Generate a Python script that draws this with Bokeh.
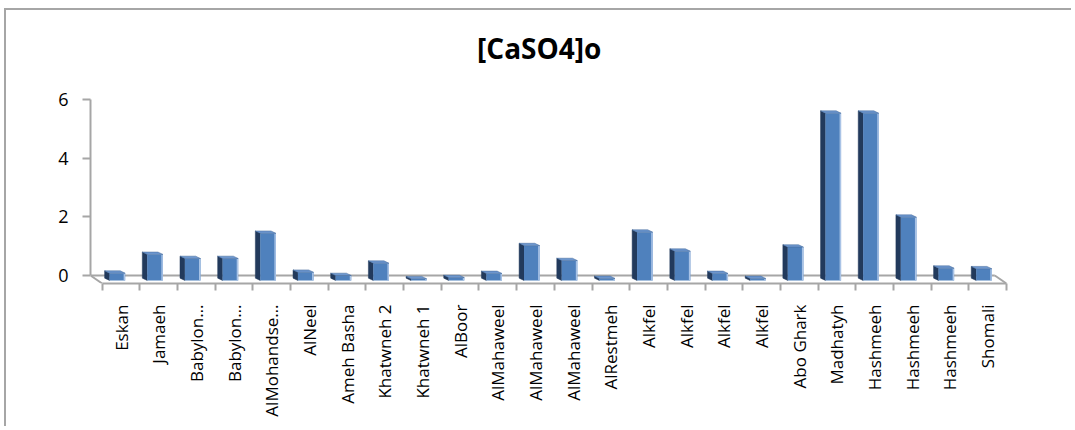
import math
from bokeh.plotting import figure
from bokeh.models import FixedTicker, Range1d, Label
from bokeh.embed import file_html
from bokeh.resources import INLINE

title_text = "[CaSO4]o"
categories = ["Eskan", "Jamaeh", "Babylon…", "Babylon…", "AlMohandse…", "AlNeel",
              "Ameh Basha", "Khatwneh 2", "Khatwneh 1", "AlBoor", "AlMahaweel",
              "AlMahaweel", "AlMahaweel", "AlRestmeh", "Alkfel", "Alkfel", "Alkfel",
              "Alkfel", "Abo Ghark", "Madhatyh", "Hashmeeh", "Hashmeeh", "Hashmeeh",
              "Shomali"]
values = [0.25, 0.89, 0.75, 0.75, 1.61, 0.28, 0.17, 0.59, 0.06, 0.10, 0.24,
          1.19, 0.68, 0.07, 1.65, 1.00, 0.24, 0.07, 1.14, 5.71, 5.71, 2.16,
          0.42, 0.40]
y_ticks = [0, 2, 4, 6]

n = len(categories)
# projection constants for the pseudo-3D look
shift = -0.17          # front face drop (depth projection)
dxd, dyd = 0.13, 0.08  # side/top depth offset
fl_dx, fl_dy = 0.31, 0.273  # floor depth
x_lo, x_hi = -0.5, n - 0.5

p = figure(width=1067, height=418, output_backend="svg", toolbar_location=None,
           x_range=Range1d(x_lo - fl_dx, x_hi), y_range=Range1d(-fl_dy, 8.362),
           min_border_left=84, min_border_right=67, min_border_top=20,
           min_border_bottom=145, background_fill_color="white",
           border_fill_color="white", outline_line_color=None)
p.styles = {"border-left": "2px solid #A6A6A6", "border-top": "2px solid #A6A6A6",
            "margin-left": "4px", "margin-top": "8px"}

# chart title, centred above the bars
p.add_layout(Label(x=11.1, y=7.75, text=title_text, text_align="center",
                   text_baseline="middle", text_font="Open Sans",
                   text_font_size="28px", text_font_style="bold",
                   text_color="#000000"))

p.xgrid.visible = False
p.ygrid.visible = False

# floor
p.line([x_lo - fl_dx, x_hi - fl_dx], [0, 0], line_color="#A6A6A6", line_width=2)
p.line([x_lo - fl_dx, x_lo], [0, -fl_dy], line_color="#A6A6A6", line_width=2)
p.line([x_hi - fl_dx, x_hi], [0, -fl_dy], line_color="#A6A6A6", line_width=2)

# bars
x1 = [i - 0.305 for i in range(n)]
x2 = [i + 0.11 for i in range(n)]
ftop = [v + shift for v in values]
fbot = [shift] * n

side_xs = [[a - dxd, a, a, a - dxd] for a in x1]
side_ys = [[shift + dyd, shift, t, t + dyd] for t in ftop]
top_xs = [[a, b, b - dxd, a - dxd] for a, b in zip(x1, x2)]
top_ys = [[t, t, t + dyd, t + dyd] for t in ftop]

p.patches(side_xs, side_ys, fill_color="#223A5C", line_color="#223A5C", line_width=0.5)
p.quad(left=x1, right=x2, bottom=fbot, top=ftop, fill_color="#4F81BD",
       line_color=None)
p.segment(x0=[b - 0.02 for b in x2], x1=[b - 0.02 for b in x2], y0=fbot, y1=ftop,
          line_color="#A9C3E6", line_width=1.5)
p.patches(top_xs, top_ys, fill_color="#6D97CF", line_color="#3E6496", line_width=0.5)

# axes
ax = p.xaxis[0]
ax.ticker = FixedTicker(ticks=list(range(n)), minor_ticks=[i - 0.5 for i in range(n + 1)])
ax.major_label_overrides = {i: c for i, c in enumerate(categories)}
ax.major_label_orientation = math.pi / 2
ax.major_tick_out = 0
ax.major_tick_in = 0
ax.minor_tick_out = 7
ax.minor_tick_in = 0
ax.minor_tick_line_color = "#A6A6A6"
ax.minor_tick_line_width = 2
ax.axis_line_color = "#A6A6A6"
ax.axis_line_width = 2
ax.bounds = (x_lo, x_hi)
ax.major_label_standoff = 14
ax.major_label_text_font = "Open Sans"
ax.major_label_text_font_size = "17px"
ax.major_label_text_color = "#000000"

ay = p.yaxis[0]
ay.ticker = FixedTicker(ticks=y_ticks, minor_ticks=[])
ay.bounds = (0, 6)
ay.major_tick_out = 8
ay.major_tick_in = 0
ay.major_tick_line_color = "#A6A6A6"
ay.major_tick_line_width = 2
ay.axis_line_color = "#A6A6A6"
ay.axis_line_width = 2
ay.major_label_standoff = 14
ay.major_label_text_font = "Open Sans"
ay.major_label_text_font_size = "18px"
ay.major_label_text_color = "#000000"

open("out.html", "w").write(file_html(p, INLINE))
